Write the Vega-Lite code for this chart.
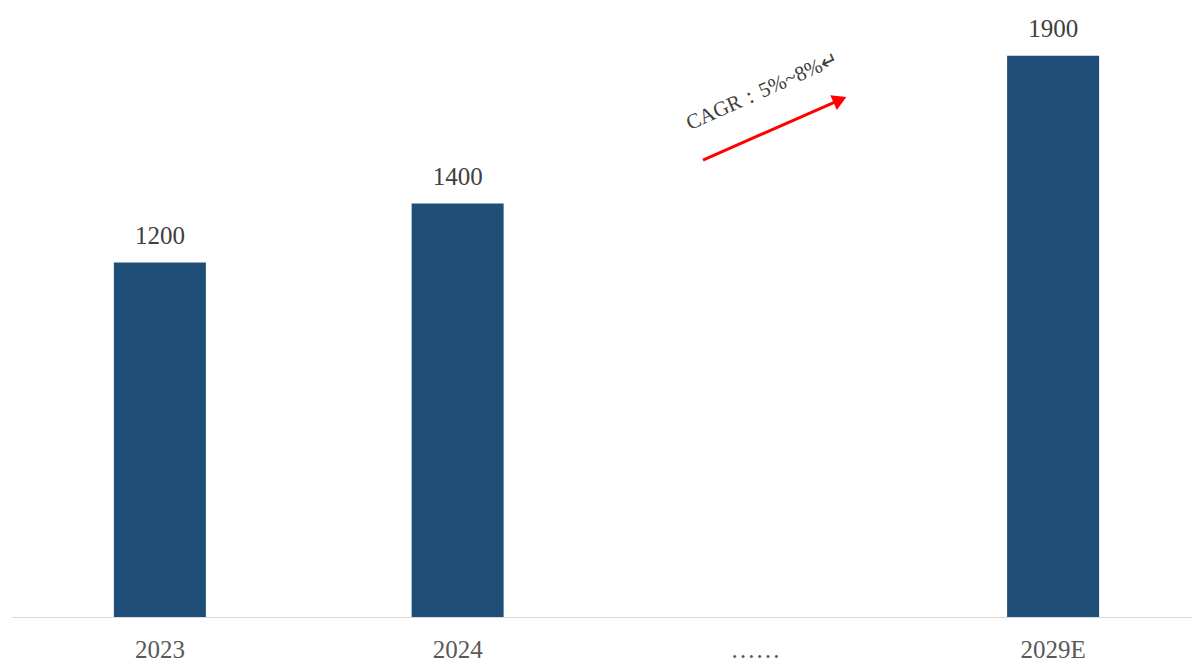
{
  "$schema": "https://vega.github.io/schema/vega-lite/v6.json",
  "autosize": "none",
  "width": 1191,
  "height": 617,
  "padding": {"left": 11, "top": 0, "right": 0, "bottom": 45},
  "background": "white",
  "config": {"view": {"stroke": null}},
  "datasets": {
    "bars": [
      {"year": "2023", "value": 1200},
      {"year": "2024", "value": 1400},
      {"year": "……", "value": null},
      {"year": "2029E", "value": 1900}
    ],
    "arrow": [
      {"x0": 2.324, "y0": 1547, "x1": 2.784, "y1": 1751, "label": "CAGR：5%~8%↵", "tx": 2.525, "ty": 1780}
    ]
  },
  "layer": [
    {
      "data": {"name": "bars"},
      "layer": [
        {
          "mark": {"type": "bar", "color": "#1f4e79"},
          "encoding": {
            "x": {"field": "year", "type": "nominal", "sort": null,
              "scale": {"domain": ["2023", "2024", "……", "2029E"], "paddingInner": 0.691, "paddingOuter": 0.3455},
              "axis": {"title": null, "domainColor": "#d9d9d9", "domainWidth": 1, "ticks": false,
                "labelFont": "Liberation Serif", "labelFontSize": 25, "labelColor": "#595959",
                "labelPadding": 20, "labelAngle": 0}},
            "y": {"field": "value", "type": "quantitative", "scale": {"domain": [0, 2089], "nice": false, "zero": true}, "axis": null}
          }
        },
        {
          "transform": [{"filter": "isValid(datum.value)"}],
          "mark": {"type": "text", "font": "Liberation Serif", "fontSize": 25, "color": "#404040", "baseline": "alphabetic", "dy": -19},
          "encoding": {
            "x": {"field": "year", "type": "nominal", "sort": null},
            "y": {"field": "value", "type": "quantitative"},
            "text": {"field": "value", "type": "quantitative", "format": "d"}
          }
        }
      ]
    },
    {
      "data": {"name": "arrow"},
      "layer": [
        {
          "mark": {"type": "rule", "color": "#ff0000", "strokeWidth": 3},
          "encoding": {
            "x": {"field": "x0", "type": "quantitative", "scale": {"domain": [0, 4], "nice": false, "zero": true}, "axis": null},
            "x2": {"field": "x1"},
            "y": {"field": "y0", "type": "quantitative"},
            "y2": {"field": "y1"}
          }
        },
        {
          "mark": {"type": "point", "shape": "triangle-right", "filled": true, "color": "#ff0000", "size": 260, "angle": -24, "opacity": 1},
          "encoding": {
            "x": {"field": "x1", "type": "quantitative", "scale": {"domain": [0, 4], "nice": false, "zero": true}, "axis": null},
            "y": {"field": "y1", "type": "quantitative"}
          }
        },
        {
          "mark": {"type": "text", "font": "Liberation Serif", "fontSize": 21, "color": "#404040", "angle": -24, "align": "center", "baseline": "middle"},
          "encoding": {
            "x": {"field": "tx", "type": "quantitative", "scale": {"domain": [0, 4], "nice": false, "zero": true}, "axis": null},
            "y": {"field": "ty", "type": "quantitative"},
            "text": {"field": "label"}
          }
        }
      ]
    }
  ],
  "resolve": {"scale": {"x": "independent"}, "axis": {"x": "independent"}}
}
